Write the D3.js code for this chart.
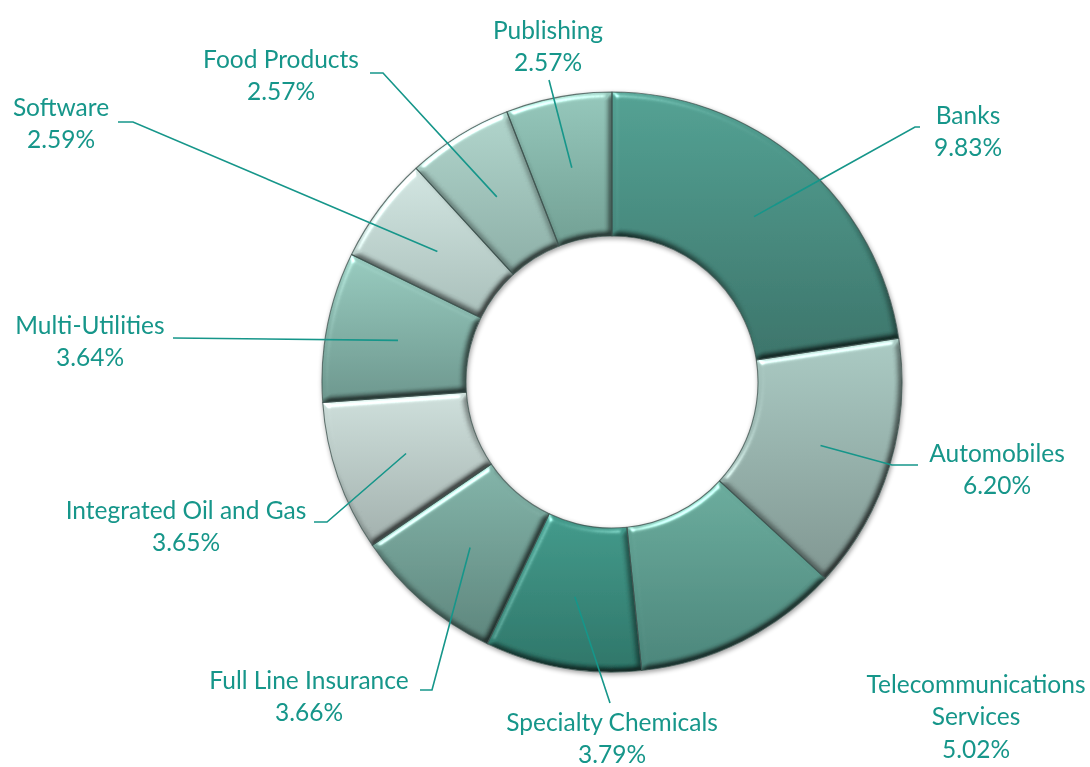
<!DOCTYPE html>
<html>
<head>
<meta charset="utf-8">
<script src="https://cdn.jsdelivr.net/npm/d3@7"></script>
<style>
  html, body { margin: 0; padding: 0; background: #ffffff; }
  svg { display: block; }
</style>
</head>
<body>
<svg id="chart" width="1090" height="767"></svg>
<script>
// ---- data ----
const categories = ["Banks", "Automobiles", "Telecommunications Services", "Specialty Chemicals",
  "Full Line Insurance", "Integrated Oil and Gas", "Multi-Utilities", "Software", "Food Products", "Publishing"];
const values = [9.83, 6.20, 5.02, 3.79, 3.66, 3.65, 3.64, 2.59, 2.57, 2.57];
const valueLabels = ["9.83%", "6.20%", "5.02%", "3.79%", "3.66%", "3.65%", "3.64%", "2.59%", "2.57%", "2.57%"];

// ---- styles / layout (separate from data) ----
const sliceTop = ["#52a092", "#a9c9c2", "#6aab9c", "#42998a", "#82b3a8", "#cddeda", "#97cabe", "#d1e4e0", "#afd3ca", "#94c6ba"];
const sliceBot = ["#3b7369", "#7f9590", "#4a8479", "#2d7467", "#5c847b", "#a0aeab", "#6b958c", "#a7bdb8", "#8bada5", "#709e92"];
const labelLines = [["Banks"], ["Automobiles"], ["Telecommunications", "Services"], ["Specialty Chemicals"],
  ["Full Line Insurance"], ["Integrated Oil and Gas"], ["Multi-Utilities"], ["Software"], ["Food Products"], ["Publishing"]];
// label block centre, leader elbow, leader end — offsets from chart centre (null = no leader)
const labelCenter = [[356,-252],[385,86],[364,333],[0,355],[-303,313],[-426,143],[-522,-42],[-551,-260],[-331,-308],[-64,-337]];
const leaderElbow = [[303,-255],[280,83],null,[-2,321],[-180,308],[-285,140],[-439,-44],[-479,-260],[-229,-309],[-63,-302]];
const leaderEnd   = [[308,-255],[306,83],null,[-2,321],[-192,308],[-298,140],[-439,-44],[-494,-260],[-242,-309],[-63,-302]];

const W = 1090, H = 767;
const cx = 612, cy = 382, R = 290, r0 = 146;
const textColor = "#16968a";
const fontSize = 24.5, lineH = 32.5;

const svg = d3.select("#chart");
const defs = svg.append("defs");

// gradients
values.forEach((v, i) => {
  const g = defs.append("linearGradient").attr("id", "grad" + i)
    .attr("x1", 0).attr("y1", 0).attr("x2", 0).attr("y2", 1);
  g.append("stop").attr("offset", "0%").attr("stop-color", sliceTop[i]);
  g.append("stop").attr("offset", "100%").attr("stop-color", sliceBot[i]);
});

// bevel filter: diffuse shading (flat = 1) + specular highlight on edges
const bev = defs.append("filter").attr("id", "bevel").attr("x", "-10%").attr("y", "-10%").attr("width", "120%").attr("height", "120%")
  .attr("color-interpolation-filters", "sRGB");
bev.append("feGaussianBlur").attr("in", "SourceAlpha").attr("stdDeviation", 3).attr("result", "blur");
const dif = bev.append("feDiffuseLighting").attr("in", "blur").attr("surfaceScale", 4)
  .attr("diffuseConstant", 1.7).attr("lighting-color", "#ffffff").attr("result", "dif");
dif.append("feDistantLight").attr("azimuth", 240).attr("elevation", 36);
bev.append("feComposite").attr("in", "SourceGraphic").attr("in2", "dif").attr("operator", "arithmetic")
  .attr("k1", 0.6).attr("k2", 0.4).attr("k3", 0).attr("k4", 0).attr("result", "shaded");
const spec = bev.append("feSpecularLighting").attr("in", "blur").attr("surfaceScale", 4)
  .attr("specularConstant", 0.9).attr("specularExponent", 30).attr("lighting-color", "#ffffff").attr("result", "spec");
spec.append("feDistantLight").attr("azimuth", 240).attr("elevation", 30);
bev.append("feComposite").attr("in", "spec").attr("in2", "SourceAlpha").attr("operator", "in").attr("result", "specIn");
bev.append("feComposite").attr("in", "shaded").attr("in2", "specIn").attr("operator", "arithmetic")
  .attr("k1", 0).attr("k2", 1).attr("k3", 0.55).attr("k4", 0).attr("result", "lit");
bev.append("feComposite").attr("in", "lit").attr("in2", "SourceAlpha").attr("operator", "in");

// drop shadow
const sh = defs.append("filter").attr("id", "shadow").attr("x", "-10%").attr("y", "-10%").attr("width", "120%").attr("height", "120%");
sh.append("feGaussianBlur").attr("in", "SourceAlpha").attr("stdDeviation", 2.5).attr("result", "b");
sh.append("feOffset").attr("in", "b").attr("dx", 1).attr("dy", 2).attr("result", "o");
sh.append("feComponentTransfer").attr("in", "o").attr("result", "o2")
  .append("feFuncA").attr("type", "linear").attr("slope", 0.4);
const m = sh.append("feMerge");
m.append("feMergeNode").attr("in", "o2");
m.append("feMergeNode").attr("in", "SourceGraphic");

const pie = d3.pie().sort(null).value(d => d).startAngle(0).endAngle(2 * Math.PI);
const arcs = pie(values);
const arc = d3.arc().innerRadius(r0).outerRadius(R);
const mid = d3.arc().innerRadius((r0 + R) / 2).outerRadius((r0 + R) / 2);

const g = svg.append("g").attr("transform", `translate(${cx},${cy})`);
const ring = g.append("g").attr("filter", "url(#shadow)");
ring.selectAll("path.slice").data(arcs).join("path")
  .attr("class", "slice")
  .attr("d", arc)
  .attr("fill", (d, i) => `url(#grad${i})`)
  .attr("filter", "url(#bevel)");
ring.selectAll("path.edge").data(arcs).join("path")
  .attr("class", "edge")
  .attr("d", arc)
  .attr("fill", "none")
  .attr("stroke", "#3b504c")
  .attr("stroke-opacity", 0.75)
  .attr("stroke-width", 1.1)
  .attr("stroke-linejoin", "round");

// leader lines
const leaders = g.append("g");
arcs.forEach((d, i) => {
  if (!leaderElbow[i]) return;
  const c = mid.centroid(d);
  const pts = [c, leaderElbow[i], leaderEnd[i]];
  leaders.append("path")
    .attr("d", d3.line()(pts))
    .attr("fill", "none")
    .attr("stroke", textColor)
    .attr("stroke-width", 1.6);
});

// labels
const labels = g.append("g")
  .attr("font-family", "Lato, 'Open Sans', sans-serif")
  .attr("font-size", fontSize)
  .attr("fill", textColor)
  .attr("text-anchor", "middle");
arcs.forEach((d, i) => {
  const lines = labelLines[i].concat([valueLabels[i]]);
  const [lx, ly] = labelCenter[i];
  const top = ly - (lines.length - 1) * lineH / 2;
  const t = labels.append("text").attr("x", lx).attr("y", top).attr("dominant-baseline", "central");
  lines.forEach((s, k) => {
    t.append("tspan").attr("x", lx).attr("y", top + k * lineH).text(s);
  });
});
</script>
</body>
</html>
